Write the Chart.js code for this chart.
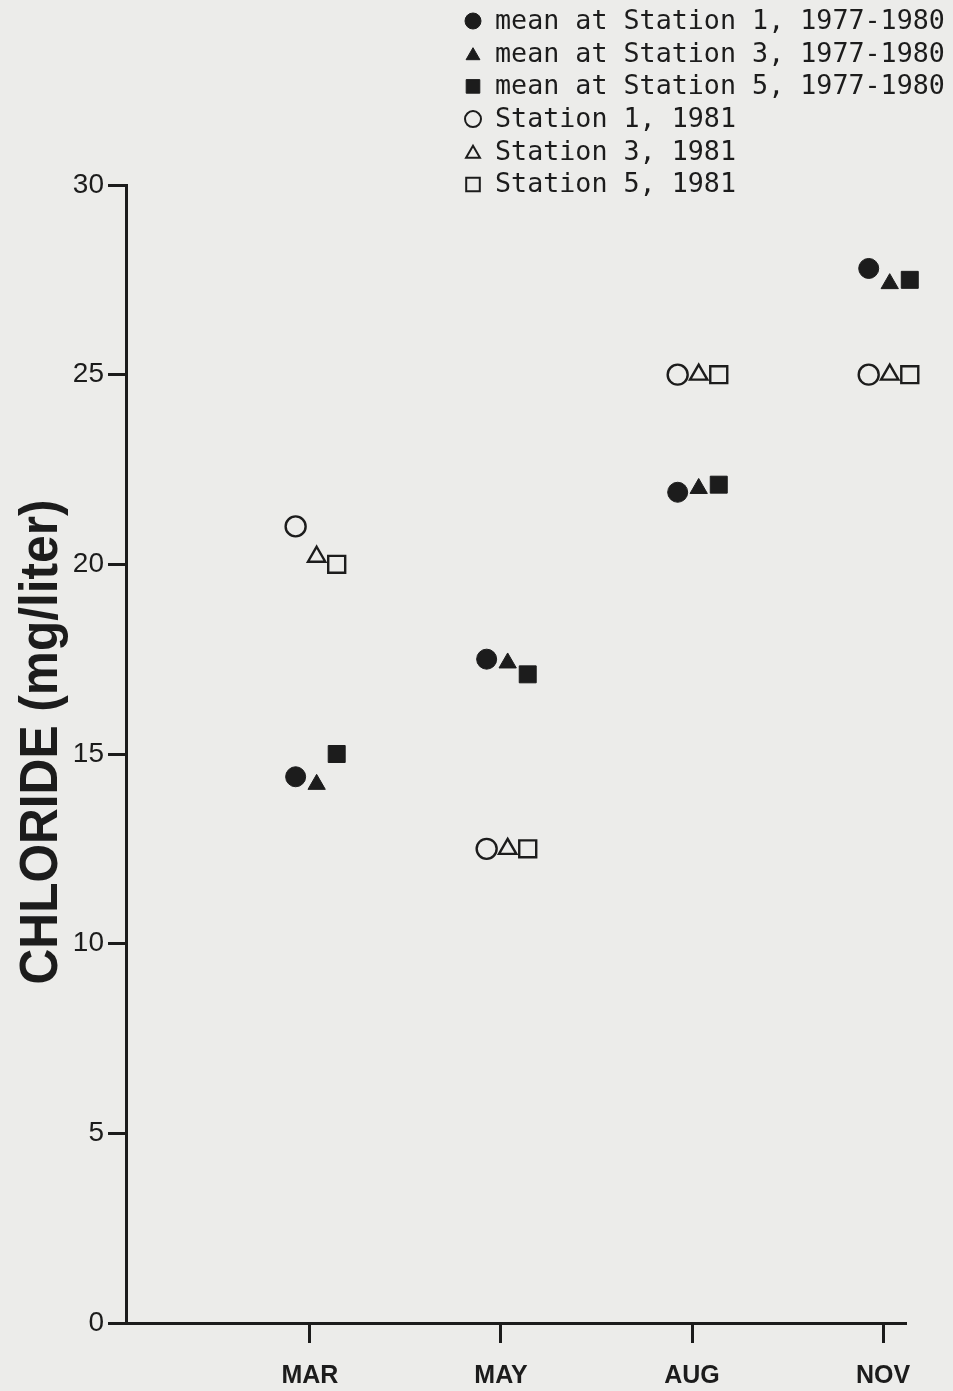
<!DOCTYPE html>
<html>
<head>
<meta charset="utf-8">
<script src="https://cdn.jsdelivr.net/npm/chart.js@4.4.1/dist/chart.umd.min.js"></script>
<style>
  html, body { margin: 0; padding: 0; background: #ececea; }
  #wrap { position: relative; width: 953px; height: 1391px; }
</style>
</head>
<body>
<div id="wrap"><canvas id="chart" width="953" height="1391"></canvas></div>
<script>
// data (chloride, mg/liter)
const months = ['MAR', 'MAY', 'AUG', 'NOV'];
const meanSt1 = [14.4, 17.5, 21.9, 27.8];
const meanSt3 = [14.2, 17.4, 22.0, 27.4];
const meanSt5 = [15.0, 17.1, 22.1, 27.5];
const st1_1981 = [21.0, 12.5, 25.0, 25.0];
const st3_1981 = [20.2, 12.5, 25.0, 25.0];
const st5_1981 = [20.0, 12.5, 25.0, 25.0];
const yTicks = [0, 5, 10, 15, 20, 25, 30];

const INK = '#1c1c1c';
const BG = '#ececea';

// station markers sit side by side around each month tick (in month units)
const shift = { circle: -0.075, triangle: 0.035, rect: 0.14 };

function series(label, values, style, filled){
  return {
    label: label,
    data: values.map((v, i) => ({ x: i + 1 + shift[style], y: v })),
    pointStyle: style,
    pointRadius: style === 'rect' ? 12 : 10,
    pointHoverRadius: style === 'rect' ? 12 : 10,
    pointBackgroundColor: filled ? INK : BG,
    pointBorderColor: INK,
    pointBorderWidth: filled ? 1 : 2.4,
    showLine: false,
    clip: false,
    filled: filled
  };
}

const datasets = [
  series('mean at Station 1, 1977-1980', meanSt1, 'circle', true),
  series('mean at Station 3, 1977-1980', meanSt3, 'triangle', true),
  series('mean at Station 5, 1977-1980', meanSt5, 'rect', true),
  series('Station 1, 1981', st1_1981, 'circle', false),
  series('Station 3, 1981', st3_1981, 'triangle', false),
  series('Station 5, 1981', st5_1981, 'rect', false),
];

function marker(ctx, style, x, y, r){
  ctx.beginPath();
  if (style === 'circle') {
    ctx.arc(x, y, r, 0, Math.PI * 2);
  } else if (style === 'triangle') {
    const a = -Math.PI / 2;
    for (let k = 0; k < 3; k++) {
      const t = a + k * 2 * Math.PI / 3;
      const px = x + Math.cos(t) * r, py = y + Math.sin(t) * r + r * 0.25;
      if (k === 0) ctx.moveTo(px, py); else ctx.lineTo(px, py);
    }
    ctx.closePath();
  } else {
    const s = r * 0.85;
    ctx.rect(x - s, y - s, 2 * s, 2 * s);
  }
  ctx.fill();
  ctx.stroke();
}

// typewriter legend in the top right + rotated axis title
const decor = {
  id: 'decor',
  afterDraw(chart){
    const ctx = chart.ctx;
    ctx.save();
    ctx.font = '26.7px "DejaVu Sans Mono", monospace';
    ctx.textBaseline = 'middle';
    chart.data.datasets.forEach((ds, i) => {
      const y = 21 + i * 32.7;
      ctx.fillStyle = ds.filled ? INK : BG;
      ctx.strokeStyle = INK;
      ctx.lineWidth = ds.filled ? 1 : 2;
      marker(ctx, ds.pointStyle, 473, y, 8);
      ctx.fillStyle = INK;
      ctx.fillText(ds.label, 495, y + 1);
    });

    const title = 'CHLORIDE (mg/liter)';
    ctx.font = 'bold 53px "Liberation Sans", Arial, sans-serif';
    const w = ctx.measureText(title).width;
    ctx.translate(42, 742);
    ctx.rotate(-Math.PI / 2);
    ctx.scale(485 / w, 1);
    ctx.textAlign = 'center';
    ctx.fillStyle = INK;
    ctx.fillText(title, 0, 0);
    ctx.restore();
  }
};

new Chart(document.getElementById('chart'), {
  type: 'scatter',
  data: { datasets: datasets },
  options: {
    responsive: false,
    animation: false,
    layout: { padding: { top: 185, right: 48, left: 0, bottom: 0 } },
    plugins: { legend: { display: false }, tooltip: { enabled: false } },
    scales: {
      x: {
        type: 'linear',
        min: 0.037,
        max: 4.115,
        afterFit: s => { s.height = 68; },
        afterBuildTicks: s => { s.ticks = months.map((m, i) => ({ value: i + 1 })); },
        border: { display: true, color: INK, width: 3 },
        grid: { drawOnChartArea: false, drawTicks: true, tickLength: 20, color: INK, lineWidth: 3 },
        ticks: {
          color: INK,
          padding: 18,
          font: { family: '"Liberation Sans", Arial, sans-serif', size: 25, weight: 'bold' },
          callback: v => months[v - 1] || ''
        }
      },
      y: {
        min: 0,
        max: 30,
        afterFit: s => { s.width = 126; },
        afterBuildTicks: s => { s.ticks = yTicks.map(v => ({ value: v })); },
        border: { display: true, color: INK, width: 3 },
        grid: { drawOnChartArea: false, drawTicks: true, tickLength: 18, color: INK, lineWidth: 3 },
        ticks: {
          color: INK,
          padding: 4,
          font: { family: '"Liberation Sans", Arial, sans-serif', size: 28 }
        }
      }
    }
  },
  plugins: [decor]
});
</script>
</body>
</html>
